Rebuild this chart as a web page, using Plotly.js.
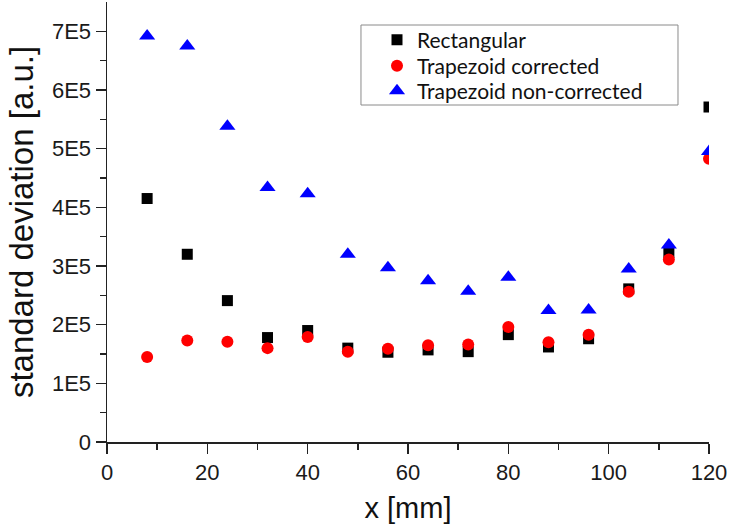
<!DOCTYPE html>
<html>
<head>
<meta charset="utf-8">
<script src="https://cdn.plot.ly/plotly-3.0.1.min.js"></script>
<style>html,body{margin:0;padding:0;background:#fff;}#chart{width:729px;height:528px;}</style>
</head>
<body>
<div id="chart"></div>
<script>
const xPositions = [8, 16, 24, 32, 40, 48, 56, 64, 72, 80, 88, 96, 104, 112, 120];
const rectangular = [4.15e5, 3.20e5, 2.41e5, 1.78e5, 1.90e5, 1.60e5, 1.53e5, 1.57e5, 1.54e5, 1.83e5, 1.62e5, 1.76e5, 2.61e5, 3.23e5, 5.71e5];
const trapezoidCorrected = [1.45e5, 1.73e5, 1.71e5, 1.60e5, 1.79e5, 1.54e5, 1.59e5, 1.65e5, 1.66e5, 1.96e5, 1.70e5, 1.83e5, 2.56e5, 3.11e5, 4.83e5];
const trapezoidNonCorrected = [6.92e5, 6.75e5, 5.38e5, 4.34e5, 4.23e5, 3.20e5, 2.97e5, 2.75e5, 2.57e5, 2.81e5, 2.24e5, 2.25e5, 2.95e5, 3.36e5, 4.95e5];
const seriesNames = ["Rectangular", "Trapezoid corrected", "Trapezoid non-corrected"];
const yTickVals = [0, 1e5, 2e5, 3e5, 4e5, 5e5, 6e5, 7e5];
const yTickText = ["0", "1E5", "2E5", "3E5", "4E5", "5E5", "6E5", "7E5"];
const yMinorVals = [5e4, 1.5e5, 2.5e5, 3.5e5, 4.5e5, 5.5e5, 6.5e5];
const xTickVals = [0, 20, 40, 60, 80, 100, 120];
const xMinorVals = [10, 30, 50, 70, 90, 110];

const axisColor = "#222";
const tickFont = {family: "Liberation Sans, Arial, sans-serif", size: 22, color: "#1a1a1a"};
const legendFont = {family: "Lato, sans-serif", size: 21, color: "#111"};

const traces = [
  {x: xPositions, y: rectangular, name: seriesNames[0], type: "scatter", mode: "markers", legend: "legend",
   marker: {symbol: "square", size: 11, color: "#000000"}},
  {x: xPositions, y: trapezoidCorrected, name: seriesNames[1], type: "scatter", mode: "markers", legend: "legend2",
   marker: {symbol: "circle", size: 12, color: "#ff0000"}},
  {x: xPositions, y: trapezoidNonCorrected, name: seriesNames[2], type: "scatter", mode: "markers", legend: "legend3",
   marker: {symbol: "triangle-up", size: 14, color: "#0000ff"}}
];

function legendAt(yPaper) {
  return {
    x: 0.4485, y: yPaper, xanchor: "left", yanchor: "middle",
    bgcolor: "rgba(0,0,0,0)", borderwidth: 0,
    font: legendFont, itemsizing: "trace"
  };
}

const layout = {
  width: 729, height: 528,
  margin: {l: 107, r: 20, t: 2, b: 86},
  paper_bgcolor: "#ffffff", plot_bgcolor: "#ffffff",
  showlegend: true,
  legend: legendAt(0.9136),
  legend2: legendAt(0.8545),
  legend3: legendAt(0.7977),
  shapes: [{
    type: "rect", xref: "paper", yref: "paper",
    x0: 0.4219, x1: 0.9485, y0: 0.7659, y1: 0.9477,
    line: {color: "#8a8a8a", width: 1}, fillcolor: "#ffffff", layer: "above"
  }],
  xaxis: {
    range: [0, 120], showgrid: false, zeroline: false,
    showline: true, linecolor: axisColor, linewidth: 1.5,
    ticks: "outside", ticklen: 10, tickwidth: 1.5, tickcolor: axisColor,
    tickmode: "array", tickvals: xTickVals,
    tickfont: tickFont,
    minor: {tickmode: "array", tickvals: xMinorVals, ticks: "outside", ticklen: 6, tickwidth: 1.5, tickcolor: axisColor, showgrid: false},
    title: {text: "x [mm]", font: {family: "Liberation Sans, Arial, sans-serif", size: 29, color: "#111"}, standoff: 14}
  },
  yaxis: {
    range: [0, 7.5e5], showgrid: false, zeroline: false,
    showline: true, linecolor: axisColor, linewidth: 1.5,
    ticks: "outside", ticklen: 10, tickwidth: 1.5, tickcolor: axisColor,
    tickmode: "array", tickvals: yTickVals, ticktext: yTickText,
    tickfont: tickFont,
    minor: {tickmode: "array", tickvals: yMinorVals, ticks: "outside", ticklen: 6, tickwidth: 1.5, tickcolor: axisColor, showgrid: false},
    title: {text: "standard deviation [a.u.]", font: {family: "Liberation Sans, Arial, sans-serif", size: 33, color: "#111"}, standoff: 8}
  },
  xaxis2: {
    overlaying: "x", side: "top", anchor: "y", range: [0, 120],
    showgrid: false, zeroline: false, showline: true, linecolor: axisColor, linewidth: 1.5,
    ticks: "inside", ticklen: 9, tickwidth: 1.5, tickcolor: axisColor,
    tickmode: "array", tickvals: xTickVals, showticklabels: false,
    minor: {tickmode: "array", tickvals: xMinorVals, ticks: "inside", ticklen: 5, tickwidth: 1.5, tickcolor: axisColor, showgrid: false}
  },
  yaxis2: {
    overlaying: "y", side: "right", anchor: "x", range: [0, 7.5e5],
    showgrid: false, zeroline: false, showline: true, linecolor: axisColor, linewidth: 1.5,
    ticks: "inside", ticklen: 10, tickwidth: 1.5, tickcolor: axisColor,
    tickmode: "array", tickvals: yTickVals, showticklabels: false,
    minor: {tickmode: "array", tickvals: yMinorVals, ticks: "inside", ticklen: 5, tickwidth: 1.5, tickcolor: axisColor, showgrid: false}
  }
};

Plotly.newPlot("chart", traces, layout, {displayModeBar: false, staticPlot: true});
</script>
</body>
</html>
